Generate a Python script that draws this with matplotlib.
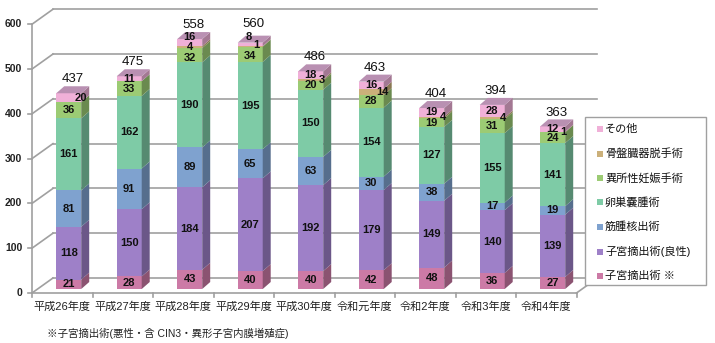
import numpy as np
import matplotlib
matplotlib.use("Agg")
import matplotlib.pyplot as plt
from matplotlib.patches import Polygon, Rectangle
from matplotlib import colors as mcolors

plt.rcParams['font.family'] = ['Liberation Sans', 'Noto Sans CJK JP', 'DejaVu Sans']

years = ['平成26年度', '平成27年度', '平成28年度', '平成29年度', '平成30年度',
         '令和元年度', '令和2年度', '令和3年度', '令和4年度']

# 下から積み上げる順
series = ['子宮摘出術 ※', '子宮摘出術(良性)', '筋腫核出術', '卵巣嚢腫術',
          '異所性妊娠手術', '骨盤臓器脱手術', 'その他']
hyst_mal = [21, 28, 43, 40, 40, 42, 48, 36, 27]
hyst_ben = [118, 150, 184, 207, 192, 179, 149, 140, 139]
myomect = [81, 91, 89, 65, 63, 30, 38, 17, 19]
ovarian = [161, 162, 190, 195, 150, 154, 127, 155, 141]
ectopic = [36, 33, 32, 34, 20, 28, 19, 31, 24]
prolapse = [0, 0, 4, 1, 3, 14, 4, 4, 1]
others = [20, 11, 16, 8, 18, 16, 19, 28, 12]
totals = [437, 475, 558, 560, 486, 463, 404, 394, 363]

data = [hyst_mal, hyst_ben, myomect, ovarian, ectopic, prolapse, others]
cols = ['#cc7aa6', '#9e80c8', '#7fa2cf', '#7ecba6', '#9ccb74', '#cbb07a', '#f0b0d8']

def shade(c, f):
    r, g, b = mcolors.to_rgb(c)
    return (r * f, g * f, b * f)

fig = plt.figure(figsize=(7.15, 3.43), dpi=100)
ax = fig.add_axes([32 / 715, 50 / 343, 544.5 / 715, 284 / 343])
ax.set_xlim(-0.5, 8.5)
ax.set_ylim(0, 634)
ax.axis('off')

# 奥行き（データ単位）
wall_dx, wall_dy = 0.347, 33.5
front_dx, front_dy = 0.107, 8.9
bar_dx, bar_dy = 0.132, 15.6
bw = 0.413
grid_c = '#a0a0a0'

ticks = np.arange(0, 700, 100)
for v in ticks:
    ax.plot([-0.5 + wall_dx, 8.5 + wall_dx], [v + wall_dy, v + wall_dy],
            color=grid_c, lw=1.2, clip_on=False, zorder=1)
    ax.plot([-0.5, -0.5 + wall_dx], [v, v + wall_dy],
            color=grid_c, lw=1.2, clip_on=False, zorder=1)
    ax.plot([-0.5 - 0.06, -0.5], [v, v], color=grid_c, lw=1.2, clip_on=False)
    ax.text(-0.5 - 0.16, v, str(v), ha='right', va='center', fontsize=7.5,
            fontweight='bold', color='#222222')
ax.plot([-0.5, -0.5], [0, 600], color=grid_c, lw=1.2, clip_on=False, zorder=1)
ax.plot([-0.5, 8.5], [0, 0], color=grid_c, lw=1.2, clip_on=False, zorder=1)
ax.plot([8.5, 8.5 + wall_dx], [0, wall_dy], color=grid_c, lw=1.2, clip_on=False, zorder=1)
for b in np.arange(-0.5, 9, 1):
    ax.plot([b, b], [0, -9], color=grid_c, lw=1.2, clip_on=False)

x = np.arange(len(years))
for i, yr in enumerate(years):
    ax.text(i, -31, yr, ha='center', va='center', fontsize=8, color='#222222')

# 重なる小さな値のラベル位置の調整 (系列, 年度): (dx, dy)
nudge = {(5, k): (0.18, 0) for k in range(4, 9)}
nudge[(6, 0)] = (0.2, 0)
nudge[(6, 2)] = (0, 12)
nudge[(5, 2)] = (0, 1)
nudge[(4, 2)] = (0, -7)
nudge[(6, 3)] = (-0.02, 16)
nudge[(5, 3)] = (0.1, 4)
nudge[(4, 3)] = (0, -4)

bottom = np.zeros(len(years))
for s, vals in enumerate(data):
    vals = np.array(vals, dtype=float)
    left = x - bw / 2 + front_dx
    base = bottom + front_dy
    ax.bar(left, vals, width=bw, bottom=base, align='edge', color=cols[s],
           edgecolor='none', zorder=3)
    for i in range(len(years)):
        if vals[i] <= 0:
            continue
        xr = left[i] + bw
        y0, y1 = base[i], base[i] + vals[i]
        side = Polygon([(xr, y0), (xr + bar_dx, y0 + bar_dy),
                        (xr + bar_dx, y1 + bar_dy), (xr, y1)],
                       closed=True, fc=shade(cols[s], 0.68), ec='none', zorder=3)
        ax.add_patch(side)
        ndx, ndy = nudge.get((s, i), (0, 0))
        ax.text(left[i] + bw / 2 + ndx, (y0 + y1) / 2 + ndy,
                str(int(vals[i])), ha='center', va='center', fontsize=8,
                fontweight='bold', color='#111111', zorder=5)
    bottom += vals

# 天面とバー合計（ラベルは柱の上に出す）
for i in range(len(years)):
    xl = x[i] - bw / 2 + front_dx
    yt = bottom[i] + front_dy
    top = Polygon([(xl, yt), (xl + bw, yt), (xl + bw + bar_dx, yt + bar_dy),
                   (xl + bar_dx, yt + bar_dy)],
                  closed=True, fc='#b990b2', ec='none', zorder=4)
    ax.add_patch(top)
    ylab = max(totals[i], bottom[i])
    ax.text(xl + bw / 2 + 0.06, ylab + front_dy + bar_dy + 2, str(totals[i]),
            ha='center', va='bottom', fontsize=9.5, color='#111111', zorder=5)

# 凡例
lx0, ly0, lx1, ly1 = 585, 117, 706, 285
fig.patches.append(Rectangle((lx0 / 715, 1 - ly1 / 343), (lx1 - lx0) / 715,
                             (ly1 - ly0) / 343, transform=fig.transFigure,
                             fc='white', ec='#a0a0a0', lw=1.0, zorder=10))
rows = [129, 153.5, 178, 202, 227, 251.5, 275.5]
for r, s in zip(rows, range(len(series) - 1, -1, -1)):
    fig.patches.append(Rectangle((597 / 715, 1 - (r + 3) / 343), 6 / 715, 6 / 343,
                                 transform=fig.transFigure, fc=cols[s], ec='none',
                                 zorder=11))
    fig.text(605 / 715, 1 - r / 343, series[s], ha='left', va='center',
             fontsize=8, color='#111111', zorder=12)

fig.text(47 / 715, 1 - 333 / 343, '※子宮摘出術(悪性・含 CIN3・異形子宮内膜増殖症)',
         ha='left', va='center', fontsize=7.5, color='#222222')

fig.savefig('out.png', dpi=100)
